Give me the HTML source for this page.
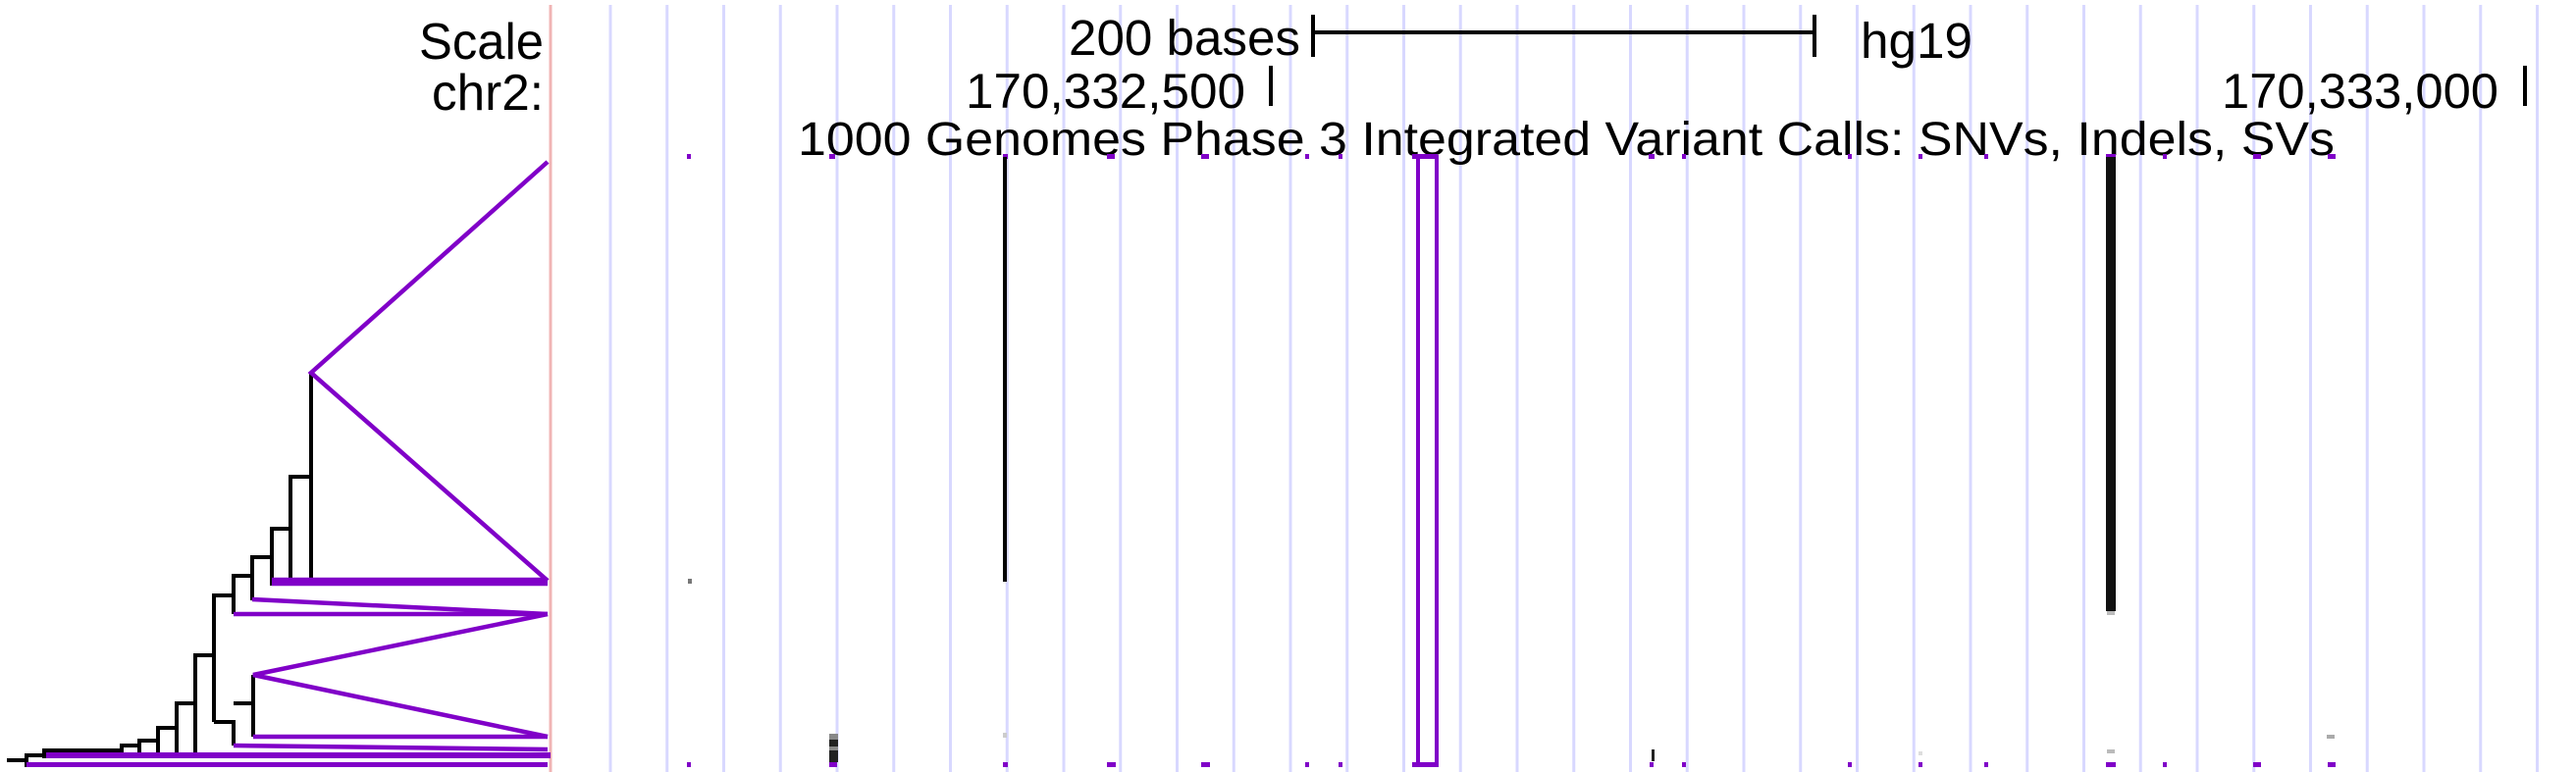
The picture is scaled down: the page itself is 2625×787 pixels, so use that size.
<!DOCTYPE html>
<html><head><meta charset="utf-8"><style>
html,body{margin:0;padding:0;background:#fff;}
svg{display:block;}
text{font-family:"Liberation Sans",sans-serif;fill:#000;}
</style></head><body>
<svg width="2625" height="787" viewBox="0 0 2625 787" xmlns="http://www.w3.org/2000/svg">
<rect width="2625" height="787" fill="#fff"/>
<g stroke="#d8d8ff" stroke-width="3" id="grid"></g>
<script>
var g=document.getElementById('grid');
for(var i=0;i<35;i++){var x=622+i*57.75;var l=document.createElementNS('http://www.w3.org/2000/svg','line');l.setAttribute('x1',x);l.setAttribute('x2',x);l.setAttribute('y1',5);l.setAttribute('y2',787);g.appendChild(l);}
</script>
<line x1="561" y1="5" x2="561" y2="787" stroke="#f0b4b4" stroke-width="3"/>
<text x="554" y="60" font-size="52" text-anchor="end" textLength="127" lengthAdjust="spacingAndGlyphs">Scale</text>
<text x="554" y="112" font-size="52" text-anchor="end" textLength="114" lengthAdjust="spacingAndGlyphs">chr2:</text>
<text x="1089" y="56" font-size="51" textLength="236" lengthAdjust="spacingAndGlyphs">200 bases</text>
<g stroke="#000" stroke-width="4">
<line x1="1338" y1="33" x2="1849" y2="33"/>
<line x1="1338" y1="15" x2="1338" y2="58"/>
<line x1="1849" y1="15" x2="1849" y2="58"/>
<line x1="1295" y1="67" x2="1295" y2="108"/>
<line x1="2573" y1="67" x2="2573" y2="108"/>
</g>
<text x="1896" y="59" font-size="51" textLength="114" lengthAdjust="spacingAndGlyphs">hg19</text>
<text x="984" y="110" font-size="50" textLength="285" lengthAdjust="spacingAndGlyphs">170,332,500</text>
<text x="2264" y="110" font-size="50" textLength="282" lengthAdjust="spacingAndGlyphs">170,333,000</text>
<text x="813" y="158" font-size="48" textLength="1566" lengthAdjust="spacingAndGlyphs">1000 Genomes Phase 3 Integrated Variant Calls: SNVs, Indels, SVs</text>
<g fill="#8000c8">
<rect x="700" y="157" width="4" height="5"/><rect x="845" y="157" width="6" height="5"/><rect x="1022" y="157" width="5" height="5"/>
<rect x="1128" y="157" width="8" height="5"/><rect x="1224" y="157" width="8" height="5"/><rect x="1330" y="157" width="4" height="5"/>
<rect x="1364" y="157" width="4" height="5"/><rect x="1439" y="157" width="26" height="5"/><rect x="1680" y="157" width="6" height="5"/>
<rect x="1714" y="157" width="4" height="5"/><rect x="1883" y="157" width="4" height="5"/><rect x="1955" y="157" width="4" height="5"/>
<rect x="2022" y="157" width="4" height="5"/><rect x="2146" y="157" width="10" height="5"/><rect x="2204" y="157" width="4" height="5"/>
<rect x="2296" y="157" width="8" height="5"/><rect x="2372" y="157" width="8" height="5"/>
<rect x="700" y="777" width="4" height="5"/><rect x="845" y="777" width="8" height="5"/><rect x="1022" y="777" width="5" height="5"/>
<rect x="1128" y="777" width="9" height="5"/><rect x="1224" y="777" width="9" height="5"/><rect x="1330" y="777" width="4" height="5"/>
<rect x="1364" y="777" width="4" height="5"/><rect x="1439" y="777" width="26" height="5"/><rect x="1681" y="777" width="4" height="5"/>
<rect x="1714" y="777" width="4" height="5"/><rect x="1883" y="777" width="4" height="5"/><rect x="1955" y="777" width="4" height="5"/>
<rect x="2022" y="777" width="4" height="5"/><rect x="2146" y="777" width="10" height="5"/><rect x="2204" y="777" width="4" height="5"/>
<rect x="2296" y="777" width="8" height="5"/><rect x="2372" y="777" width="8" height="5"/>
</g>
<rect x="1445" y="160" width="19" height="620" fill="none" stroke="#8000c8" stroke-width="4"/>
<rect x="1022" y="160" width="4" height="433" fill="#000"/>
<rect x="2146" y="160" width="10" height="463" fill="#111"/>
<rect x="2147" y="623" width="8" height="4" fill="#bbb"/>
<rect x="2147" y="764" width="8" height="4" fill="#bbb"/>
<rect x="2371" y="749" width="8" height="4" fill="#aaa"/>
<rect x="1955" y="766" width="4" height="4" fill="#ddd"/>
<rect x="1683" y="764" width="3" height="12" fill="#222"/>
<rect x="701" y="590" width="4" height="5" fill="#777"/>
<rect x="845" y="748" width="9" height="29" fill="#222"/>
<rect x="845" y="748" width="9" height="6" fill="#888"/>
<rect x="845" y="761" width="9" height="4" fill="#888"/>
<rect x="1022" y="747" width="4" height="5" fill="#ccc"/>
<g stroke="#000" stroke-width="4" fill="none">
<path d="M317 380V591"/>
<path d="M315 486H296V593"/>
<path d="M296 539H277V597"/>
<path d="M277 568H257V612"/>
<path d="M257 587H238V626"/>
<path d="M238 607H218V736"/>
<path d="M218 736H238V760"/>
<path d="M238 717H258V751"/>
<path d="M258 688V751"/>
<path d="M218 668H199V767"/>
<path d="M199 717H180V767"/>
<path d="M180 742H161V767"/>
<path d="M161 755H142V767"/>
<path d="M142 760H124V767"/>
<path d="M124 765H45V773"/>
<path d="M45 770H27V782"/>
<path d="M7 775H27"/>
</g>
<g stroke="#8000c8" stroke-width="4.5" fill="none">
<path d="M558 165L317 380L558 592"/>
<path d="M277 591H558M277 595H558M296 593H558"/>
<path d="M257 611L558 626"/>
<path d="M238 626H558"/>
<path d="M558 626L258 688L558 751"/>
<path d="M258 751H558"/>
<path d="M238 760L558 764"/>
</g>
<rect x="47" y="767" width="514" height="6" fill="#8000c8"/>
<rect x="27" y="777" width="531" height="5" fill="#8000c8"/>
</svg>
</body></html>
